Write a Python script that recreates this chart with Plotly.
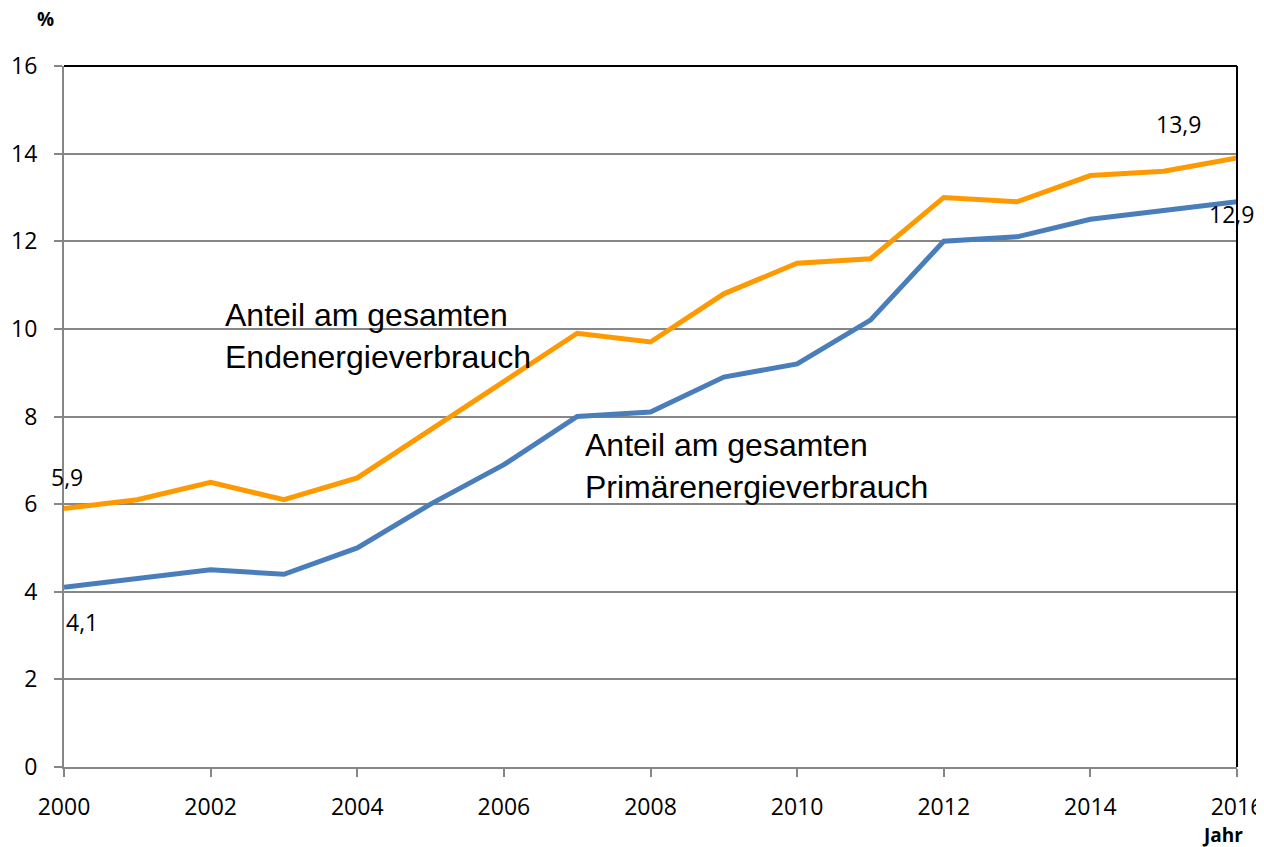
import plotly.graph_objects as go

years = list(range(2000, 2017))
endenergie = [5.9, 6.1, 6.5, 6.1, 6.6, 7.7, 8.8, 9.9, 9.7, 10.8, 11.5, 11.6, 13.0, 12.9, 13.5, 13.6, 13.9]
primaer = [4.1, 4.3, 4.5, 4.4, 5.0, 6.0, 6.9, 8.0, 8.1, 8.9, 9.2, 10.2, 12.0, 12.1, 12.5, 12.7, 12.9]
x_ticks = list(range(2000, 2017, 2))
y_ticks = list(range(0, 17, 2))

ORANGE = "#FF9900"
BLUE = "#4A7EBB"
GRID = "#868686"
TICKFONT = dict(family="Open Sans", size=23, color="black")

fig = go.Figure()
fig.add_trace(go.Scatter(x=years, y=primaer, mode="lines",
                         line=dict(color=BLUE, width=5), hoverinfo="skip"))
fig.add_trace(go.Scatter(x=years, y=endenergie, mode="lines",
                         line=dict(color=ORANGE, width=5), hoverinfo="skip"))

# page body has an 8px margin, so the figure is shifted by 8px
fig.update_layout(
    width=1256, height=839,
    margin=dict(l=56, r=27, t=58, b=80),
    paper_bgcolor="white", plot_bgcolor="white",
    showlegend=False,
    xaxis=dict(range=[2000, 2016], tickvals=x_ticks, ticktext=[str(v) for v in x_ticks],
               showgrid=False, zeroline=False, showline=True, linecolor=GRID, linewidth=2,
               ticks="outside", ticklen=8, tickcolor=GRID, tickwidth=2, automargin=False,
               tickfont=TICKFONT, ticklabelstandoff=10),
    yaxis=dict(range=[0, 16], tickvals=y_ticks, showgrid=True, gridcolor=GRID, gridwidth=1.5,
               zeroline=False, showline=True, linecolor=GRID, linewidth=2,
               ticks="outside", ticklen=8, tickcolor=GRID, tickwidth=2, automargin=False,
               tickfont=TICKFONT, ticklabelstandoff=12),
)

# top and right border in black
fig.add_shape(type="line", xref="paper", yref="paper", x0=0, x1=1, y0=1, y1=1,
              line=dict(color="black", width=2))
fig.add_shape(type="line", xref="paper", yref="paper", x0=1, x1=1, y0=0, y1=1,
              line=dict(color="black", width=2))

LABELFONT = dict(family="Open Sans", size=23, color="black")
labels = [
    (2000.04, 6.62, "5,9"),
    (2000.25, 3.31, "4,1"),
    (2015.2, 14.68, "13,9"),
    (2015.93, 12.62, "12,9"),
]
for x, y, t in labels:
    fig.add_annotation(x=x, y=y, text=t, showarrow=False, xanchor="center", yanchor="middle",
                       font=LABELFONT)

ANNFONT = dict(family="Liberation Sans, Arial", size=32, color="black")
fig.add_annotation(x=2002.17, y=9.84, text="Anteil am gesamten<br>Endenergieverbrauch",
                   showarrow=False, xanchor="left", yanchor="middle", align="left", font=ANNFONT)
fig.add_annotation(x=2007.08, y=6.87, text="Anteil am gesamten<br>Primärenergieverbrauch",
                   showarrow=False, xanchor="left", yanchor="middle", align="left", font=ANNFONT)

fig.add_annotation(xref="paper", yref="paper", x=(45 - 64) / (1237 - 64),
                   y=(767 - 19) / (767 - 66), text="<b>%</b>", showarrow=False,
                   xanchor="center", yanchor="middle",
                   font=dict(family="Open Sans", size=19, color="black"))
fig.add_annotation(xref="paper", yref="paper", x=(1222 - 64) / (1237 - 64),
                   y=(767 - 835) / (767 - 66), text="<b>Jahr</b>", showarrow=False,
                   xanchor="center", yanchor="middle",
                   font=dict(family="Open Sans", size=19, color="black"))

fig.write_html("out.html")
